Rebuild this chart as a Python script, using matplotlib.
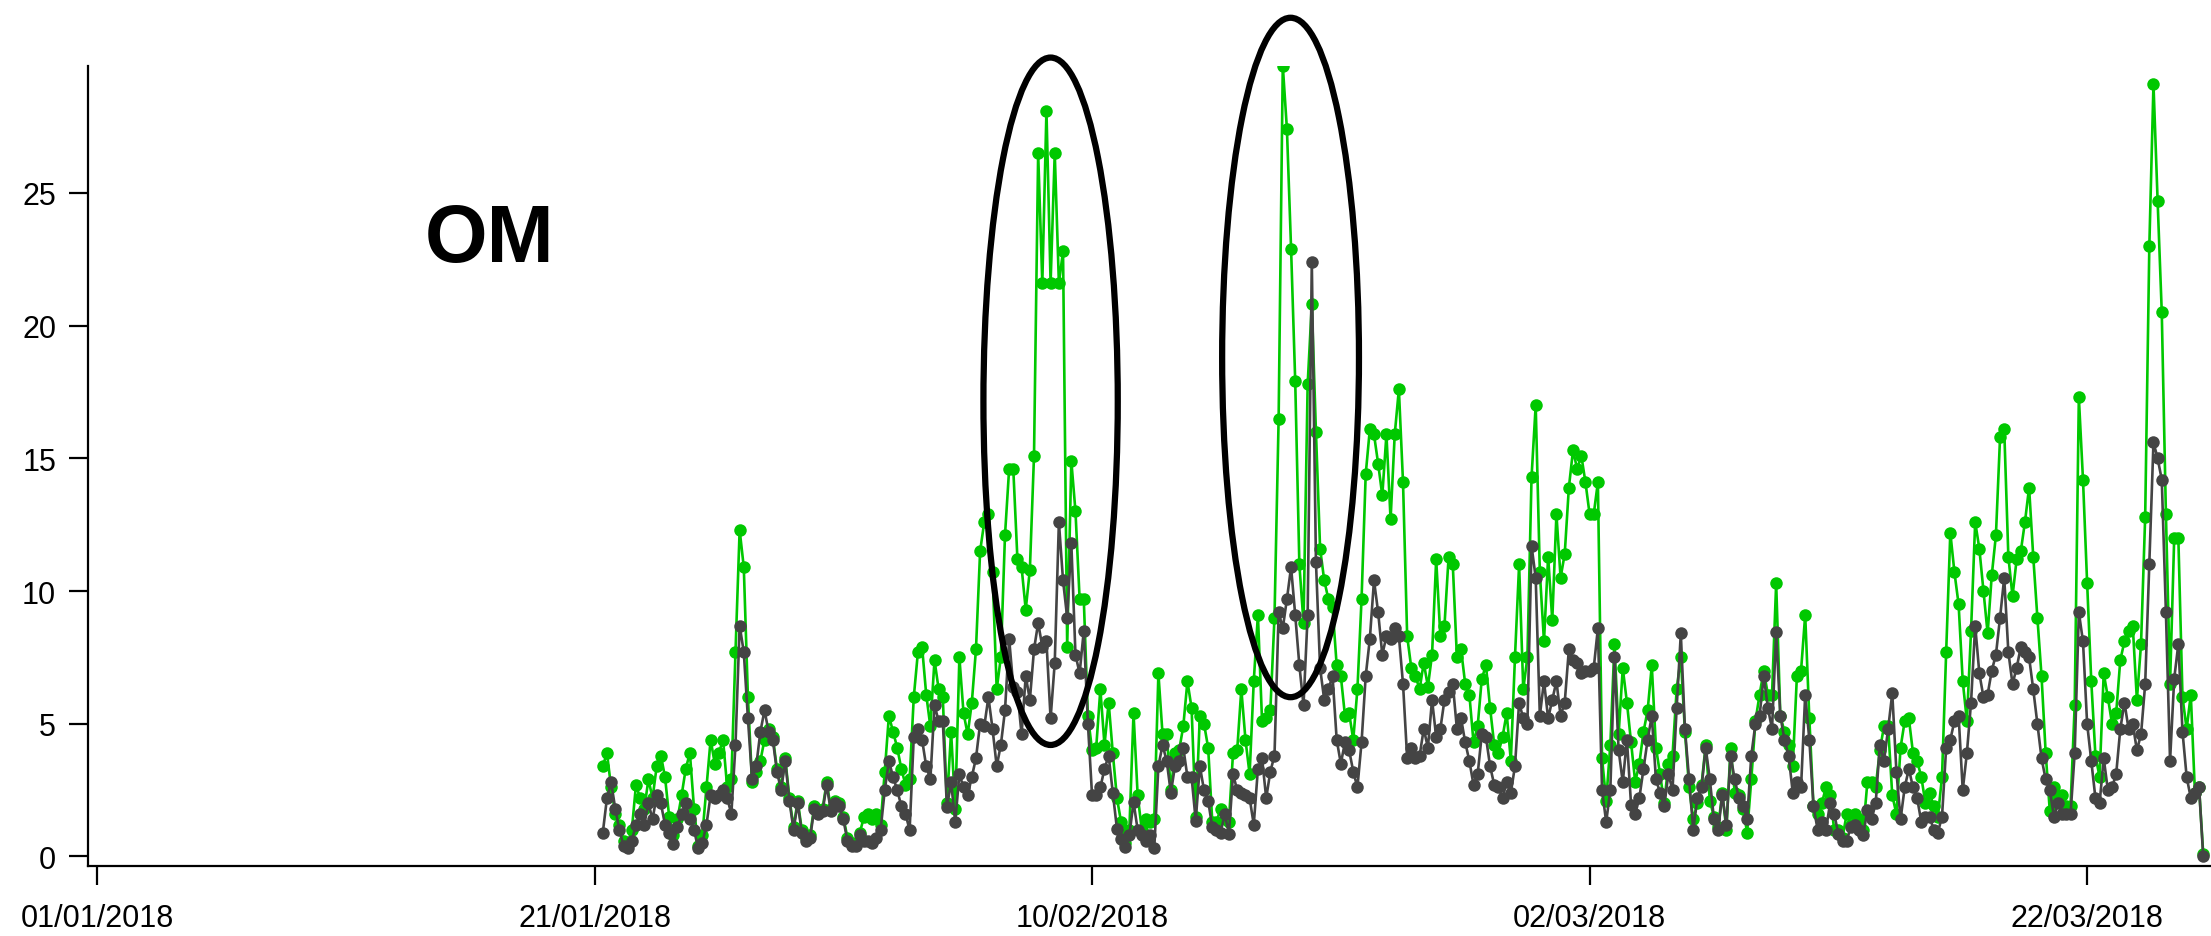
import pandas as pd
import matplotlib
matplotlib.use('Agg')
import matplotlib.pyplot as plt
import matplotlib.dates as mdates
from matplotlib.patches import Ellipse

plt.rcParams['font.family'] = ['Liberation Sans', 'DejaVu Sans']

# 4-hourly series starting 21/01/2018 08:00
start = '2018-01-21 08:00'
step = '4h'

# green series (one row per day)
green_vals = [
    3.4, 3.9, 2.6, 1.6,
    1.2, 0.6, 0.5, 1.0, 2.7, 2.2,
    1.8, 2.9, 2.2, 3.4, 3.8, 3.0,
    1.5, 0.8, 1.4, 2.3, 3.3, 3.9,
    1.8, 0.4, 0.8, 2.6, 4.4, 3.5,
    3.9, 4.4, 2.6, 2.9, 7.7, 12.3,
    10.9, 6.0, 2.8, 3.2, 3.6, 4.4,
    4.8, 4.5, 3.3, 2.6, 3.7, 2.2,
    1.1, 2.1, 1.0, 0.7, 0.8, 1.9,
    1.7, 1.8, 2.8, 1.8, 2.1, 2.0,
    1.5, 0.7, 0.5, 0.5, 0.9, 1.5,
    1.6, 1.4, 1.6, 1.2, 3.2, 5.3,
    4.7, 4.1, 3.3, 2.7, 2.9, 6.0,
    7.7, 7.9, 6.1, 4.9, 7.4, 6.3,
    6.0, 2.0, 4.7, 1.8, 7.5, 5.4,
    4.6, 5.8, 7.8, 11.5, 12.6, 12.9,
    10.7, 6.3, 7.5, 12.1, 14.6, 14.6,
    11.2, 10.9, 9.3, 10.8, 15.1, 26.5,
    21.6, 28.1, 21.6, 26.5, 21.6, 22.8,
    7.9, 14.9, 13.0, 9.7, 9.7, 5.3,
    4.0, 4.1, 6.3, 4.2, 5.8, 3.9,
    2.2, 1.3, 0.5, 1.0, 5.4, 2.3,
    1.0, 1.4, 1.3, 1.4, 6.9, 4.6,
    4.6, 2.5, 3.9, 4.0, 4.9, 6.6,
    5.6, 1.5, 5.3, 5.0, 4.1, 1.3,
    1.3, 1.8, 1.4, 1.3, 3.9, 4.0,
    6.3, 4.4, 3.1, 6.6, 9.1, 5.1,
    5.2, 5.5, 9.0, 16.5, 29.8, 27.4,
    22.9, 17.9, 11.0, 8.8, 17.8, 20.8,
    16.0, 11.6, 10.4, 9.7, 9.4, 7.2,
    6.8, 5.3, 5.4, 4.4, 6.3, 9.7,
    14.4, 16.1, 15.9, 14.8, 13.6, 15.9,
    12.7, 15.9, 17.6, 14.1, 8.3, 7.1,
    6.8, 6.3, 7.3, 6.4, 7.6, 11.2,
    8.3, 8.7, 11.3, 11.0, 7.5, 7.8,
    6.5, 6.1, 4.3, 4.9, 6.7, 7.2,
    5.6, 4.2, 3.9, 4.5, 5.4, 3.6,
    7.5, 11.0, 6.3, 7.5, 14.3, 17.0,
    10.7, 8.1, 11.3, 8.9, 12.9, 10.5,
    11.4, 13.9, 15.3, 14.6, 15.1, 14.1,
    12.9, 12.9, 14.1, 3.7, 2.1, 4.2,
    8.0, 4.6, 7.1, 5.8, 4.3, 2.8,
    3.5, 4.7, 5.5, 7.2, 4.1, 3.1,
    2.0, 3.5, 3.8, 6.3, 7.5, 4.7,
    2.6, 1.4, 2.0, 2.7, 4.2, 2.1,
    1.5, 1.1, 2.4, 1.0, 4.1, 2.4,
    2.3, 1.8, 0.9, 2.9, 5.1, 6.1,
    7.0, 6.1, 6.1, 10.3, 5.3, 4.7,
    4.2, 3.4, 6.8, 7.0, 9.1, 5.2,
    1.9, 1.6, 2.0, 2.6, 2.3, 1.0,
    1.0, 0.7, 1.6, 1.2, 1.6, 1.4,
    1.0, 2.8, 2.8, 2.6, 4.0, 4.9,
    4.9, 2.3, 1.6, 4.1, 5.1, 5.2,
    3.9, 3.6, 3.0, 2.0, 2.4, 1.9,
    1.5, 3.0, 7.7, 12.2, 10.7, 9.5,
    6.6, 5.1, 8.5, 12.6, 11.6, 10.0,
    8.4, 10.6, 12.1, 15.8, 16.1, 11.3,
    9.8, 11.2, 11.5, 12.6, 13.9, 11.3,
    9.0, 6.8, 3.9, 1.7, 2.6, 2.2,
    2.3, 1.9, 1.9, 5.7, 17.3, 14.2,
    10.3, 6.6, 3.8, 3.0, 6.9, 6.0,
    5.0, 5.4, 7.4, 8.1, 8.5, 8.7,
    5.9, 8.0, 12.8, 23.0, 29.1, 24.7,
    20.5, 12.9, 6.5, 12.0, 12.0, 6.0,
    4.8, 6.1, 2.4, 2.6, 0.1,
]

# dark grey series
dark_vals = [
    0.9, 2.2, 2.8, 1.8,
    1.0, 0.4, 0.3, 0.6, 1.2, 1.6,
    1.2, 2.0, 1.4, 2.3, 2.0, 1.2,
    0.9, 0.45, 1.1, 1.6, 2.0, 1.4,
    1.0, 0.3, 0.5, 1.2, 2.3, 2.2,
    2.3, 2.5, 2.2, 1.6, 4.2, 8.7,
    7.7, 5.2, 2.9, 3.4, 4.7, 5.5,
    4.7, 4.4, 3.2, 2.5, 3.6, 2.1,
    1.0, 2.0, 0.9, 0.6, 0.7, 1.8,
    1.6, 1.7, 2.7, 1.7, 2.0, 1.9,
    1.4, 0.6, 0.4, 0.4, 0.8, 0.6,
    0.6, 0.5, 0.7, 1.0, 2.5, 3.6,
    3.0, 2.5, 1.9, 1.6, 1.0, 4.5,
    4.8, 4.4, 3.4, 2.9, 5.7, 5.1,
    5.1, 1.85, 2.8, 1.3, 3.1, 2.6,
    2.3, 3.0, 3.7, 5.0, 4.9, 6.0,
    4.8, 3.4, 4.2, 5.5, 8.2, 6.4,
    6.2, 4.6, 6.8, 5.9, 7.8, 8.8,
    7.9, 8.1, 5.2, 7.3, 12.6, 10.4,
    9.0, 11.8, 7.6, 6.9, 8.5, 5.0,
    2.3, 2.3, 2.6, 3.3, 3.8, 2.4,
    1.05, 0.65, 0.35, 0.8, 2.05, 1.0,
    0.8, 0.6, 0.8, 0.3, 3.4, 4.2,
    3.6, 2.4, 3.4, 3.6, 4.1, 3.0,
    3.0, 1.35, 3.4, 2.5, 2.1, 1.1,
    1.0, 0.9, 1.6, 0.85, 3.1, 2.5,
    2.4, 2.3, 2.2, 1.2, 3.3, 3.7,
    2.2, 3.2, 3.8, 9.2, 8.6, 9.7,
    10.9, 9.1, 7.2, 5.7, 9.1, 22.4,
    11.1, 7.1, 5.9, 6.3, 6.8, 4.4,
    3.5, 4.3, 4.0, 3.2, 2.6, 4.3,
    6.8, 8.2, 10.4, 9.2, 7.6, 8.3,
    8.2, 8.6, 8.3, 6.5, 3.7, 4.1,
    3.7, 3.8, 4.8, 4.1, 5.9, 4.5,
    4.8, 5.9, 6.2, 6.5, 4.8, 5.2,
    4.3, 3.6, 2.7, 3.1, 4.6, 4.5,
    3.4, 2.7, 2.6, 2.2, 2.8, 2.4,
    3.4, 5.8, 5.2, 5.0, 11.7, 10.5,
    5.3, 6.6, 5.2, 5.9, 6.6, 5.3,
    5.8, 7.8, 7.4, 7.3, 6.9, 7.0,
    7.0, 7.1, 8.6, 2.5, 1.3, 2.5,
    7.5, 4.0, 2.8, 4.4, 1.95, 1.6,
    2.2, 3.3, 4.4, 5.3, 2.9, 2.4,
    1.9, 3.1, 2.5, 5.6, 8.4, 4.8,
    2.9, 1.0, 2.2, 2.6, 4.1, 2.9,
    1.4, 1.0, 2.3, 1.2, 3.8, 2.9,
    2.2, 1.9, 1.4, 3.8, 5.0, 5.3,
    6.8, 5.6, 4.8, 8.45, 5.3, 4.4,
    3.8, 2.4, 2.8, 2.6, 6.1, 4.4,
    1.9, 1.0, 1.3, 1.0, 2.0, 1.6,
    0.85, 0.6, 0.6, 1.1, 1.2, 1.0,
    0.8, 1.75, 1.4, 2.0, 4.2, 3.6,
    4.8, 6.15, 3.2, 1.4, 2.6, 3.3,
    2.6, 2.2, 1.3, 1.5, 1.5, 1.0,
    0.9, 1.5, 4.1, 4.4, 5.1, 5.3,
    2.5, 3.9, 5.8, 8.7, 6.9, 6.0,
    6.1, 7.0, 7.6, 9.0, 10.5, 7.7,
    6.5, 7.1, 7.9, 7.7, 7.5, 6.3,
    5.0, 3.7, 2.9, 2.5, 1.5, 2.0,
    1.6, 1.6, 1.6, 3.9, 9.2, 8.1,
    5.0, 3.6, 2.2, 2.0, 3.7, 2.5,
    2.6, 3.1, 4.8, 5.8, 4.8, 5.0,
    4.0, 4.6, 6.5, 11.0, 15.6, 15.0,
    14.2, 9.2, 3.6, 6.7, 8.0, 4.7,
    3.0, 2.2, 2.4, 2.6, 0.0,
]

tick_dates = ['2018-01-01', '2018-01-21', '2018-02-10', '2018-03-02', '2018-03-22']
tick_labels = ['01/01/2018', '21/01/2018', '10/02/2018', '02/03/2018', '22/03/2018']
y_ticks = [0, 5, 10, 15, 20, 25]
panel_label = 'OM'

# highlighted episodes: centre time, centre value, width (days), height
ell_centres = ['2018-02-08 08:00', '2018-02-17 23:30']
ell_values = [17.15, 18.8]
ell_widths = [5.4, 5.5]
ell_heights = [25.9, 25.6]

times = pd.date_range(start, periods=len(green_vals), freq=step)

fig = plt.figure(figsize=(22.11, 9.37), dpi=100)
ax = fig.add_axes([0.0398, 0.075, 0.9602, 0.854])

ax.plot(times, green_vals, color='#00c800', lw=1.9, marker='o', ms=9,
        markeredgewidth=0)
ax.plot(times, dark_vals, color='#444444', lw=1.9, marker='o', ms=9,
        markeredgewidth=0)

for c, v, w, h in zip(ell_centres, ell_values, ell_widths, ell_heights):
    e = Ellipse((mdates.date2num(pd.Timestamp(c)), v), w, h, fill=False,
                edgecolor='black', lw=4.5, clip_on=False, zorder=5)
    ax.add_patch(e)

ax.set_xlim(pd.Timestamp('2017-12-31 15:20'), pd.Timestamp('2018-03-26 23:30'))
ax.set_ylim(-0.35, 29.8)

ax.set_xticks(pd.to_datetime(tick_dates))
ax.set_xticklabels(tick_labels)
ax.set_yticks(y_ticks)

for s in ['top', 'right']:
    ax.spines[s].set_visible(False)
for s in ['left', 'bottom']:
    ax.spines[s].set_linewidth(1.6)

ax.tick_params(axis='both', direction='out', length=14, width=1.6,
               labelsize=22)
ax.tick_params(axis='y', pad=9)
ax.tick_params(axis='x', pad=13)

ax.text(0.189, 0.782, panel_label, transform=ax.transAxes, ha='center',
        va='center', fontsize=58, fontweight='bold')

fig.savefig('out.png', dpi=100)
